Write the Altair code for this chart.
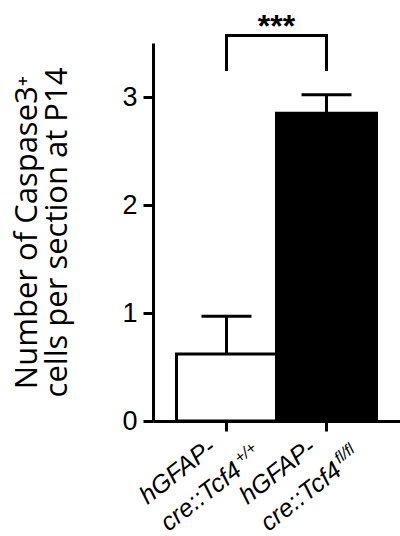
import altair as alt
import pandas as pd

# ---- data ----
genotypes = ["hGFAP-cre::Tcf4+/+", "hGFAP-cre::Tcf4fl/fl"]
means = [0.62, 2.85]
sems = [0.35, 0.17]
fills = ["white", "black"]
label_line1 = ["hGFAP-", "hGFAP-"]
label_line2 = ["cre::Tcf4", "cre::Tcf4"]
label_sup = ["+/+", "fl/fl"]
y_ticks = [0, 1, 2, 3]
y_domain = [0, 3.5]
bracket_points_g = [genotypes[0], genotypes[0], genotypes[1], genotypes[1]]
bracket_points_y = [3.24, 3.57, 3.57, 3.24]
bracket_order = [0, 1, 2, 3]
star_label = ["***"]
star_y = [3.56]
y_title = ["Number of Caspase3\u207a", "cells per section at P14"]

pad_outer = 0.235
n_groups = len(genotypes)

df = pd.DataFrame({
    "g": genotypes, "mean": means, "sem": sems, "fill": fills,
    "l1": label_line1, "l2": label_line2, "sup": label_sup,
    "idx": list(range(n_groups)), "base": [0.0] * n_groups,
})
df["top"] = df["mean"] + df["sem"]

bracket_df = pd.DataFrame({"g": bracket_points_g, "mean": bracket_points_y, "o": bracket_order})
star_df = pd.DataFrame({"g": [genotypes[0]], "mean": star_y, "t": star_label})

xscale = alt.Scale(domain=genotypes, paddingInner=0, paddingOuter=pad_outer)
# linear scale equivalent to the band centres, used for the rotated labels
xlin = alt.Scale(domain=[-(pad_outer + 0.5), n_groups - 1 + pad_outer + 0.5], nice=False, zero=False)
yscale = alt.Scale(domain=y_domain, nice=False, zero=True)

xaxis = alt.Axis(title=None, labels=False,
                 domainColor="black", domainWidth=3,
                 tickColor="black", tickWidth=3, tickSize=10, grid=False)
yaxis = alt.Axis(values=y_ticks, title=y_title, grid=False,
                 domainColor="black", domainWidth=3,
                 tickColor="black", tickWidth=3, tickSize=10,
                 labelFont="Liberation Sans", labelFontSize=27, labelColor="black",
                 labelPadding=6,
                 titleFont="Open Sans", titleFontSize=31, titleFontWeight="normal",
                 titleColor="black", titleAngle=270, titleAlign="center",
                 titleBaseline="alphabetic", titleX=-117, titleY=189,
                 titleLineHeight=30)


def X(**kw):
    return alt.X("g:N", scale=xscale, axis=xaxis, **kw)


def Y(field):
    return alt.Y(field, scale=yscale, axis=yaxis)


bars = alt.Chart(df).mark_bar(stroke="black", strokeWidth=3).encode(
    x=X(), y=Y("mean:Q"), color=alt.Color("fill:N", scale=None),
)
err = alt.Chart(df).mark_rule(color="black", strokeWidth=3).encode(
    x=X(), y=Y("mean:Q"), y2="top:Q"
)
cap = alt.Chart(df).mark_tick(color="black", size=50, thickness=3, opacity=1).encode(
    x=X(), y=Y("top:Q")
)
bracket = alt.Chart(bracket_df).mark_line(color="black", strokeWidth=3, strokeJoin="miter",
                                          strokeCap="butt").encode(
    x=X(), y=Y("mean:Q"), order="o:Q"
)
stars = alt.Chart(star_df).mark_text(font="Liberation Sans", fontSize=32, fontWeight="bold",
                                     color="black", align="center", baseline="alphabetic").encode(
    x=X(bandPosition=1), y=Y("mean:Q"), text="t:N"
)
main = alt.layer(bars, err, cap, bracket, stars)

XL = alt.X("idx:Q", scale=xlin, axis=None)
YL = alt.Y("base:Q", scale=yscale, axis=yaxis)
txt = dict(font="Liberation Sans", fontStyle="italic", angle=322, align="left")
lab1 = alt.Chart(df).mark_text(fontSize=25, xOffset=-79, yOffset=84, baseline="alphabetic",
                               **txt).encode(x=XL, y=YL, text="l1:N")
lab2 = alt.Chart(df).mark_text(fontSize=25, xOffset=-58, yOffset=111, baseline="alphabetic",
                               **txt).encode(x=XL, y=YL, text="l2:N")
lab3 = alt.Chart(df).mark_text(fontSize=16, xOffset=13, yOffset=43, baseline="alphabetic",
                               **txt).encode(x=XL, y=YL, text="sup:N")
labels = alt.layer(lab1, lab2, lab3)

chart = alt.layer(main, labels).resolve_scale(x="independent").properties(
    width=247, height=378,
    autosize=alt.AutoSizeParams(type="none"),
    padding={"left": 153, "top": 43, "right": 0, "bottom": 115},
    background="white",
).configure_view(stroke=None)

chart.save("out.html", embed_options={"renderer": "svg", "actions": False})
